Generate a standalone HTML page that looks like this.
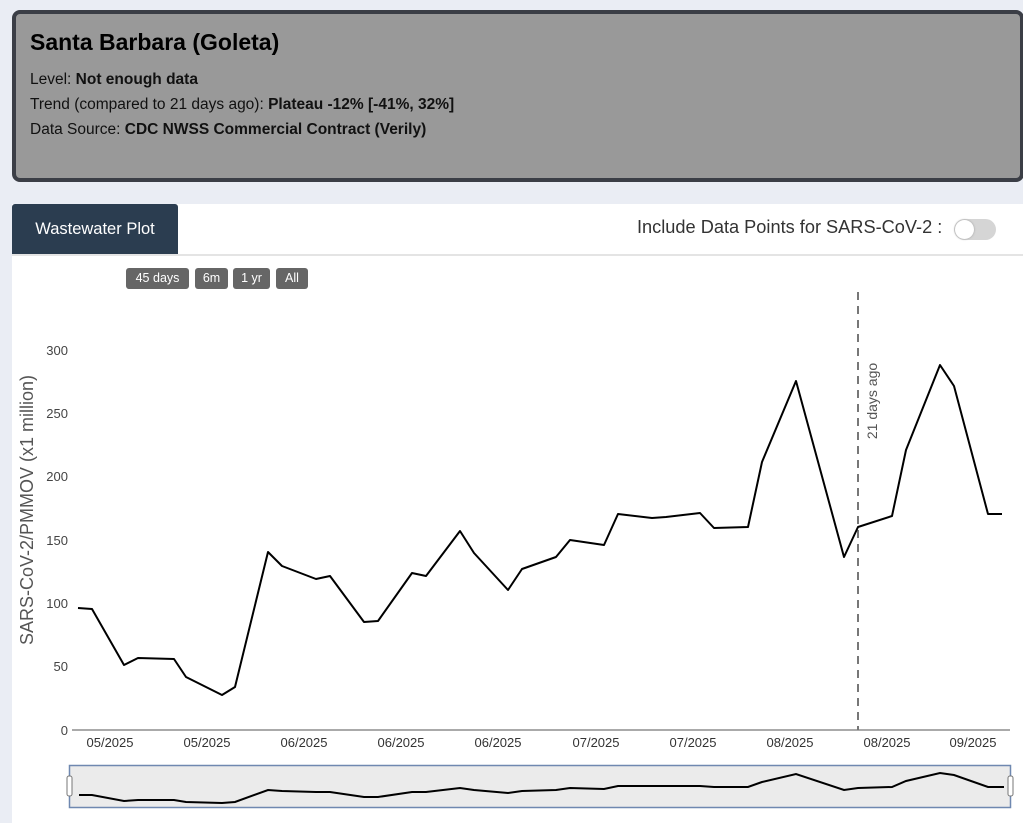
<!DOCTYPE html>
<html><head><meta charset="utf-8"><style>
body{margin:0;width:1023px;height:823px;background:#eaedf4;font-family:"Liberation Sans",sans-serif;overflow:hidden;position:relative}
.hdr{position:absolute;left:12px;top:10px;width:1004px;height:164px;background:#999;border:4px solid #3b3e46;border-radius:8px}
.hdr h1{margin:0;position:absolute;left:14px;top:15px;font-size:23px;font-weight:bold;color:#000}
.hdr .l{position:absolute;left:14px;font-size:15.5px;color:#111}
.panel{position:absolute;left:12px;top:204px;width:1011px;height:619px;background:#fff}
.tab{position:absolute;left:0;top:0;width:166px;height:50px;background:#2b3d50;color:#fff;font-size:16.5px;line-height:50px;text-align:center;border-radius:3px 3px 0 0}
.sep{position:absolute;left:0;top:50px;width:1011px;height:2px;background:#e4e4e4}
.btn{position:absolute;top:64px;height:21px;background:#666;color:#fff;font-size:12.5px;line-height:21px;text-align:center;border-radius:3px}
</style></head><body>
<div class="hdr">
<h1>Santa Barbara (Goleta)</h1>
<div class="l" style="top:57px">Level: <b>Not enough data</b></div>
<div class="l" style="top:82px">Trend (compared to 21 days ago): <b>Plateau -12% [-41%, 32%]</b></div>
<div class="l" style="top:107px">Data Source: <b>CDC NWSS Commercial Contract (Verily)</b></div>
</div>
<div class="panel">
<div class="tab">Wastewater Plot</div>
<div class="sep"></div>
<div style="position:absolute;left:625px;top:13px;font-size:18.2px;color:#333">Include Data Points for SARS-CoV-2 :</div>
<div style="position:absolute;left:942px;top:15px;width:42px;height:21px;border-radius:11px;background:#d5d5d5"></div>
<div style="position:absolute;left:943px;top:16px;width:19px;height:19px;border-radius:50%;background:#fff;box-shadow:0 0 2px #999"></div>
<div class="btn" style="left:114px;width:63px">45 days</div>
<div class="btn" style="left:183px;width:33px">6m</div>
<div class="btn" style="left:221px;width:37px">1 yr</div>
<div class="btn" style="left:264px;width:32px">All</div>
</div>
<svg width="1023" height="823" style="position:absolute;left:0;top:0" font-family="Liberation Sans, sans-serif">
<g font-size="13" fill="#444" text-anchor="end">
<text x="68" y="735">0</text><text x="68" y="671">50</text><text x="68" y="608">100</text><text x="68" y="545">150</text><text x="68" y="481">200</text><text x="68" y="418">250</text><text x="68" y="355">300</text>
</g>
<line x1="72" y1="730" x2="1010" y2="730" stroke="#555" stroke-width="1"/>
<text transform="translate(33,510) rotate(-90)" text-anchor="middle" font-size="18" fill="#555">SARS-CoV-2/PMMOV (x1 million)</text>
<g font-size="13" fill="#333" text-anchor="middle">
<text x="110" y="747">05/2025</text><text x="207" y="747">05/2025</text><text x="304" y="747">06/2025</text><text x="401" y="747">06/2025</text><text x="498" y="747">06/2025</text><text x="596" y="747">07/2025</text><text x="693" y="747">07/2025</text><text x="790" y="747">08/2025</text><text x="887" y="747">08/2025</text><text x="973" y="747">09/2025</text>
</g>
<line x1="858" y1="292" x2="858" y2="730" stroke="#777" stroke-width="2" stroke-dasharray="8,6"/>
<text transform="translate(877,401) rotate(-90)" text-anchor="middle" font-size="14" fill="#555">21 days ago</text>
<polyline fill="none" stroke="#000" stroke-width="2" stroke-linejoin="round" points="78,608 92,609 124,665 138,658 174,659 186,677 222,695 235,687 268,552 282,566 316,579 330,576 364,622 378,621 412,573 426,576 460,531 474,553 508,590 522,569 556,557 570,540 604,545 618,514 652,518 666,517 700,513 714,528 748,527 762,462 796,381 844,557 858,527 892,516 906,450 940,365 954,386 988,514 1002,514"/>
<rect x="69.5" y="765.5" width="941" height="42" fill="#ebebeb" stroke="#6f88b0" stroke-width="1.5"/>
<polyline fill="none" stroke="#000" stroke-width="2" points="79,795 92,795 124,801 138,800 174,800 186,802 222,803 235,802 268,790 282,791 316,792 330,792 364,797 378,797 412,792 426,792 460,788 474,790 508,793 522,791 556,790 570,788 604,789 618,786 652,786 666,786 700,786 714,787 748,787 762,782 796,774 844,790 858,788 892,787 906,781 940,773 954,775 988,787 1004,787"/>
<rect x="67" y="776" width="5" height="20" rx="2" fill="#fff" stroke="#777"/>
<rect x="1008" y="776" width="5" height="20" rx="2" fill="#fff" stroke="#777"/>
</svg>
</body></html>
